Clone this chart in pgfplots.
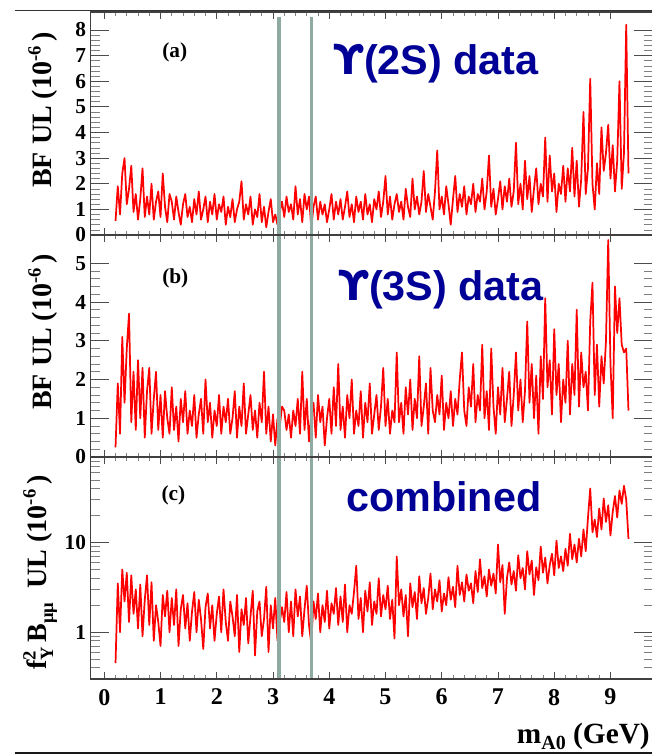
\documentclass[border=0pt]{standalone}
\usepackage{pgfplots}
\pgfplotsset{compat=1.18}
\usepackage{pgfplotstable}
\usepackage{fontspec}
\setmainfont{Liberation Serif}
\newfontfamily\sansf{Liberation Sans}
\newfontfamily\dejavu{DejaVu Sans}
\definecolor{bandc}{RGB}{143,170,160}
\definecolor{ttl}{RGB}{0,0,150}
\definecolor{curve}{RGB}{255,0,0}

\pgfplotstableread{
x a b c
0.20 0.55 0.25 0.45
0.24 1.9 1.9 3.5
0.28 0.8 0.6 1.0
0.32 2.4 3.1 5.0
0.36 3.0 1.4 2.2
0.40 1.2 2.8 4.6
0.44 1.8 3.7 1.3
0.48 2.7 0.9 4.3
0.52 0.9 2.2 1.6
0.56 1.6 0.7 3.0
0.60 0.6 2.5 1.1
0.64 1.4 1.0 3.4
0.68 2.6 2.3 0.9
0.72 0.7 0.5 2.3
0.76 1.5 1.7 4.3
0.80 0.8 2.3 1.2
0.84 2.0 0.6 3.6
0.88 0.6 1.5 0.8
0.92 1.3 2.2 2.0
0.96 1.7 0.7 1.3
1.00 0.7 1.6 0.7
1.04 2.4 0.5 2.6
1.08 1.1 1.7 1.5
1.12 0.5 1.0 2.9
1.16 1.6 0.6 1.0
1.20 1.3 1.8 2.4
1.24 0.6 0.7 1.2
1.28 1.5 1.3 3.0
1.32 0.9 0.4 0.7
1.36 0.4 1.5 1.8
1.40 1.2 0.9 2.6
1.44 1.6 1.7 1.1
1.48 0.7 0.6 2.1
1.52 1.1 1.2 0.8
1.56 0.5 0.8 1.7
1.60 1.4 1.6 2.8
1.64 0.8 0.5 1.0
1.68 1.7 1.1 2.3
1.72 0.6 1.5 1.4
1.76 1.0 0.6 0.65
1.80 1.5 2.0 1.9
1.84 0.5 0.9 2.7
1.88 1.3 1.4 1.1
1.92 0.8 0.5 2.0
1.96 1.6 1.2 0.8
2.00 0.6 0.8 1.6
2.04 1.2 1.6 2.5
2.08 0.9 0.6 1.0
2.12 1.5 1.3 3.0
2.16 0.4 0.9 1.3
2.20 1.1 1.5 0.8
2.24 0.7 0.6 2.2
2.28 1.4 1.0 1.5
2.32 0.5 1.7 0.9
2.36 1.0 0.5 2.6
2.40 1.3 1.3 0.6
2.44 2.1 0.8 1.8
2.48 0.6 1.9 1.2
2.52 1.2 0.6 2.4
2.56 0.8 1.1 0.75
2.60 1.5 1.6 1.5
2.64 0.4 0.7 2.9
2.68 1.0 1.2 0.55
2.72 0.7 0.5 1.7
2.76 1.6 1.4 2.2
2.80 0.5 0.9 0.9
2.84 1.1 2.2 1.4
2.88 0.3 0.6 3.2
2.92 0.9 1.3 0.6
2.96 1.4 0.4 2.0
3.00 0.5 1.1 1.1
3.04 0.8 0.3 2.4
3.08 0.4 1.0 0.8
3.12 0.9 0.8 1.3
3.16 1.3 1.3 1.9
3.20 0.7 1.2 1.3
3.24 1.5 0.7 2.8
3.28 0.9 1.1 1.0
3.32 1.2 0.5 2.2
3.36 0.6 1.2 0.9
3.40 1.9 0.8 3.0
3.44 0.8 1.5 1.5
3.48 1.4 0.6 2.5
3.52 0.5 2.2 0.9
3.56 1.6 0.7 1.8
3.60 1.0 1.5 3.3
3.64 1.5 0.4 1.2
3.68 0.3 1.1 0.75
3.72 1.1 1.4 2.2
3.76 1.5 0.5 1.4
3.80 0.6 1.6 2.7
3.84 1.3 0.9 1.0
3.88 0.8 1.3 2.0
3.92 1.2 0.3 1.3
3.96 0.5 1.0 2.9
4.00 1.0 1.5 1.1
4.04 1.6 0.6 2.1
4.08 0.6 1.8 1.6
4.12 1.3 0.8 3.1
4.16 0.8 2.4 1.2
4.20 1.4 0.7 2.5
4.24 0.6 1.3 1.3
4.28 1.1 0.5 3.4
4.32 1.7 1.6 1.0
4.36 0.7 1.0 2.0
4.40 1.2 2.0 1.6
4.44 0.5 0.6 2.8
4.48 1.5 1.2 5.5
4.52 0.9 0.8 1.4
4.56 1.3 1.7 2.4
4.60 0.6 0.5 1.0
4.64 1.6 1.4 2.9
4.68 0.8 0.9 1.7
4.72 1.2 1.9 3.6
4.76 0.5 0.6 1.2
4.80 1.4 1.1 2.2
4.84 1.0 1.6 1.6
4.88 1.7 0.7 4.0
4.92 0.7 1.3 1.5
4.96 1.3 2.3 2.6
5.00 2.3 0.8 1.8
5.04 0.8 1.5 3.3
5.08 1.5 0.6 1.4
5.12 0.6 1.2 2.3
5.16 1.2 0.9 0.85
5.20 1.6 2.7 7.0
5.24 0.9 0.9 2.0
5.28 1.3 1.4 3.0
5.32 0.6 0.6 1.5
5.36 1.8 1.8 2.6
5.40 1.1 1.1 0.9
5.44 0.7 2.0 3.5
5.48 2.2 0.7 1.9
5.52 1.0 1.5 2.8
5.56 1.5 1.0 1.4
5.60 0.8 2.6 4.2
5.64 1.3 0.8 2.1
5.68 2.5 1.3 3.1
5.72 0.9 1.9 1.6
5.76 1.6 0.6 2.4
5.80 1.1 2.3 4.5
5.84 0.6 1.2 1.8
5.88 1.7 0.9 3.0
5.92 3.3 1.6 2.2
5.96 1.0 1.1 3.8
6.00 1.5 2.1 1.7
6.04 0.8 0.7 2.7
6.08 1.9 1.4 2.0
6.12 1.2 1.0 4.1
6.16 0.4 1.7 2.3
6.20 1.4 0.8 3.2
6.24 2.3 1.5 1.9
6.28 0.9 1.1 5.5
6.32 1.6 2.0 2.6
6.36 1.1 2.7 3.6
6.40 1.9 1.2 2.2
6.44 0.8 0.8 4.4
6.48 1.5 1.8 2.9
6.52 1.2 1.3 3.5
6.56 2.0 2.4 2.1
6.60 0.9 0.9 4.8
6.64 1.6 1.6 2.8
6.68 1.3 1.2 6.5
6.72 2.2 2.9 3.1
6.76 1.0 1.0 4.2
6.80 1.7 1.7 2.5
6.84 3.1 0.7 5.0
6.88 1.1 2.8 3.3
6.92 1.8 1.3 4.5
6.96 0.8 0.6 2.7
7.00 1.4 1.8 9.5
7.04 2.1 1.1 3.6
7.08 1.0 2.3 5.6
7.12 1.9 0.9 1.6
7.16 1.3 1.5 4.0
7.20 2.2 2.2 6.0
7.24 1.1 0.8 3.4
7.28 1.7 1.6 4.8
7.32 3.6 2.7 2.9
7.36 1.2 1.2 7.2
7.40 2.0 2.0 4.0
7.44 1.0 0.9 5.2
7.48 2.9 1.7 3.0
7.52 1.4 3.5 8.0
7.56 2.3 1.4 4.4
7.60 0.9 2.4 6.3
7.64 1.8 1.0 2.6
7.68 2.6 2.1 5.3
7.72 1.2 0.6 3.8
7.76 2.0 2.6 9.0
7.80 1.5 1.5 4.6
7.84 3.8 4.1 6.8
7.88 1.3 1.8 3.5
7.92 3.1 2.5 5.6
7.96 1.7 1.1 7.5
8.00 2.4 3.3 4.3
8.04 0.9 1.6 10.5
8.08 2.0 2.4 5.2
8.12 1.6 0.9 7.0
8.16 2.7 2.0 4.8
8.20 1.3 1.4 8.5
8.24 2.6 3.0 5.5
8.28 1.7 1.1 12.5
8.32 3.4 2.4 6.5
8.36 1.5 1.6 9.5
8.40 2.9 3.8 6.0
8.44 1.1 1.3 11.0
8.48 2.2 2.7 7.0
8.52 4.8 1.8 14.0
8.56 1.6 2.2 8.0
8.60 2.6 1.2 19.0
8.64 6.1 3.5 40.0
8.68 2.0 4.5 13.0
8.72 1.0 1.6 18.0
8.76 2.8 2.9 11.5
8.80 1.6 1.3 24.0
8.84 4.2 2.6 14.0
8.88 2.5 1.9 31.0
8.92 3.2 3.0 17.0
8.96 4.3 5.6 26.0
9.00 2.2 2.4 12.0
9.04 3.5 1.0 22.0
9.08 1.7 4.4 33.0
9.12 2.9 3.2 19.0
9.16 6.0 4.1 38.0
9.20 1.8 2.9 27.0
9.24 3.2 2.7 43.0
9.28 8.2 2.8 30.0
9.32 2.4 1.2 11.0
}\datatab

\newcommand{\bands}[1]{%
  \fill[bandc] ({axis cs:3.065,1}|-{rel axis cs:0,0}) rectangle ({axis cs:3.141,1}|-{rel axis cs:0,#1});
  \fill[bandc] ({axis cs:3.662,1}|-{rel axis cs:0,0}) rectangle ({axis cs:3.716,1}|-{rel axis cs:0,#1});
}

\pgfplotsset{
  panel/.style={
    scale only axis,
    width=421.7pt,
    xmin=-0.242, xmax=9.755,
    axis line style={black!75, line width=0.9pt},
    tick style={black!70, line width=0.6pt},
    minor tick style={black!50, line width=0.5pt},
    /pgf/number format/assume math mode=true,
    yticklabel style={font=\fontsize{16pt}{16pt}\selectfont\bfseries},
    xticklabel style={font=\fontsize{18pt}{18pt}\selectfont\bfseries},
    xticklabel shift=4pt,
    anchor=south west,
  },
  % axis carrying the data and the x ticks
  xpanel/.style={panel,
    xtick={0,1,...,9}, minor x tick num=4,
    ytick=\empty,
    major tick length=5.25pt, minor tick length=2.8pt},
  % overlay carrying only the (longer) y ticks
  ypanel/.style={panel,
    xtick=\empty, minor x tick num=0,
    major tick length=14pt, minor tick length=7pt},
  curvestyle/.style={curve, line width=1.3pt, line join=round, no markers},
}

\begin{document}
\begin{tikzpicture}
\useasboundingbox (0,0) rectangle (489pt,-565.5pt);

% decorative frame lines of the page
\draw[black!80, line width=0.9pt] (11pt,-7.9pt) -- (489pt,-7.9pt);
\draw[black!90, line width=1pt] (11pt,-564.7pt) -- (489pt,-564.7pt);

% panel (a)
\begin{axis}[xpanel, at={(68pt,-176.25pt)}, height=167.25pt,
  ymin=0, ymax=8.7, xticklabels={}]
\addplot[curvestyle] table[x=x,y=a]{\datatab};
\bands{0.978}
\end{axis}
\begin{axis}[ypanel, at={(68pt,-176.25pt)}, height=167.25pt,
  ymin=0, ymax=8.7, ytick={0,1,...,8}, minor y tick num=4]
\end{axis}

% panel (b)
\begin{axis}[xpanel, at={(68pt,-342.75pt)}, height=166.5pt,
  ymin=0, ymax=5.73, xticklabels={}]
\addplot[curvestyle] table[x=x,y=b]{\datatab};
\bands{1}
\end{axis}
\begin{axis}[ypanel, at={(68pt,-342.75pt)}, height=166.5pt,
  ymin=0, ymax=5.73, ytick={0,1,...,5}, minor y tick num=4]
\end{axis}

% panel (c)
\begin{axis}[xpanel, at={(68pt,-509.25pt)}, height=166.5pt,
  ymode=log, ymin=0.3, ymax=90,
  xticklabels={0,1,2,3,4,5,6,7,8,9}]
\addplot[curvestyle] table[x=x,y=c]{\datatab};
\bands{1}
\end{axis}
\begin{axis}[ypanel, at={(68pt,-509.25pt)}, height=166.5pt,
  ymode=log, ymin=0.3, ymax=90, ytick={1,10}, yticklabels={1,10},
  minor ytick={0.3,0.4,0.5,0.6,0.7,0.8,0.9,2,3,4,5,6,7,8,9,20,30,40,50,60,70,80,90}]
\end{axis}

% panel tags
\node[anchor=base west, inner sep=0pt, font=\fontsize{16pt}{16pt}\selectfont\bfseries] at (121.5pt,-42.75pt) {(a)};
\node[anchor=base west, inner sep=0pt, font=\fontsize{16pt}{16pt}\selectfont\bfseries] at (121.5pt,-212.25pt) {(b)};
\node[anchor=base west, inner sep=0pt, font=\fontsize{16pt}{16pt}\selectfont\bfseries] at (121pt,-375pt) {(c)};

% big titles
\node[anchor=base west, inner sep=0pt, text=ttl, font=\fontsize{31pt}{31pt}\selectfont\sansf\bfseries] at (249.75pt,-55.5pt) {{\dejavu\bfseries ϒ}(2S) data};
\node[anchor=base west, inner sep=0pt, text=ttl, font=\fontsize{31pt}{31pt}\selectfont\sansf\bfseries] at (253.5pt,-225pt) {{\dejavu\bfseries ϒ}(3S) data};
\node[anchor=base west, inner sep=0pt, text=ttl, font=\fontsize{31pt}{31pt}\selectfont\sansf\bfseries] at (259.5pt,-383.25pt) {combined};

% y labels
\node[rotate=90, anchor=base west, inner sep=0pt, font=\fontsize{21pt}{21pt}\selectfont\bfseries] at (38.25pt,-141pt)
  {BF UL (10\raisebox{0.8ex}{\fontsize{14pt}{14pt}\selectfont -6}\,)};
\node[rotate=90, anchor=base west, inner sep=0pt, font=\fontsize{21pt}{21pt}\selectfont\bfseries] at (38.25pt,-307.5pt)
  {BF UL (10\raisebox{0.8ex}{\fontsize{14pt}{14pt}\selectfont -6}\,)};
\node[rotate=90, anchor=base west, inner sep=0pt, font=\fontsize{21pt}{21pt}\selectfont\bfseries] at (34.5pt,-502.5pt)
  {f\rlap{\raisebox{0.8ex}{\fontsize{14pt}{14pt}\selectfont 2}}\raisebox{-0.55ex}{\fontsize{14pt}{14pt}\selectfont Υ}\,B\raisebox{-0.55ex}{\fontsize{14pt}{14pt}\selectfont μμ}\ \ UL (10\raisebox{0.8ex}{\fontsize{14pt}{14pt}\selectfont -6}\,)};

% x label
\node[anchor=base east, inner sep=0pt, font=\fontsize{22pt}{22pt}\selectfont\bfseries] at (487.5pt,-557.25pt)
  {m\raisebox{-0.5ex}{\fontsize{15pt}{15pt}\selectfont A0}\ (GeV)};
\end{tikzpicture}
\end{document}
